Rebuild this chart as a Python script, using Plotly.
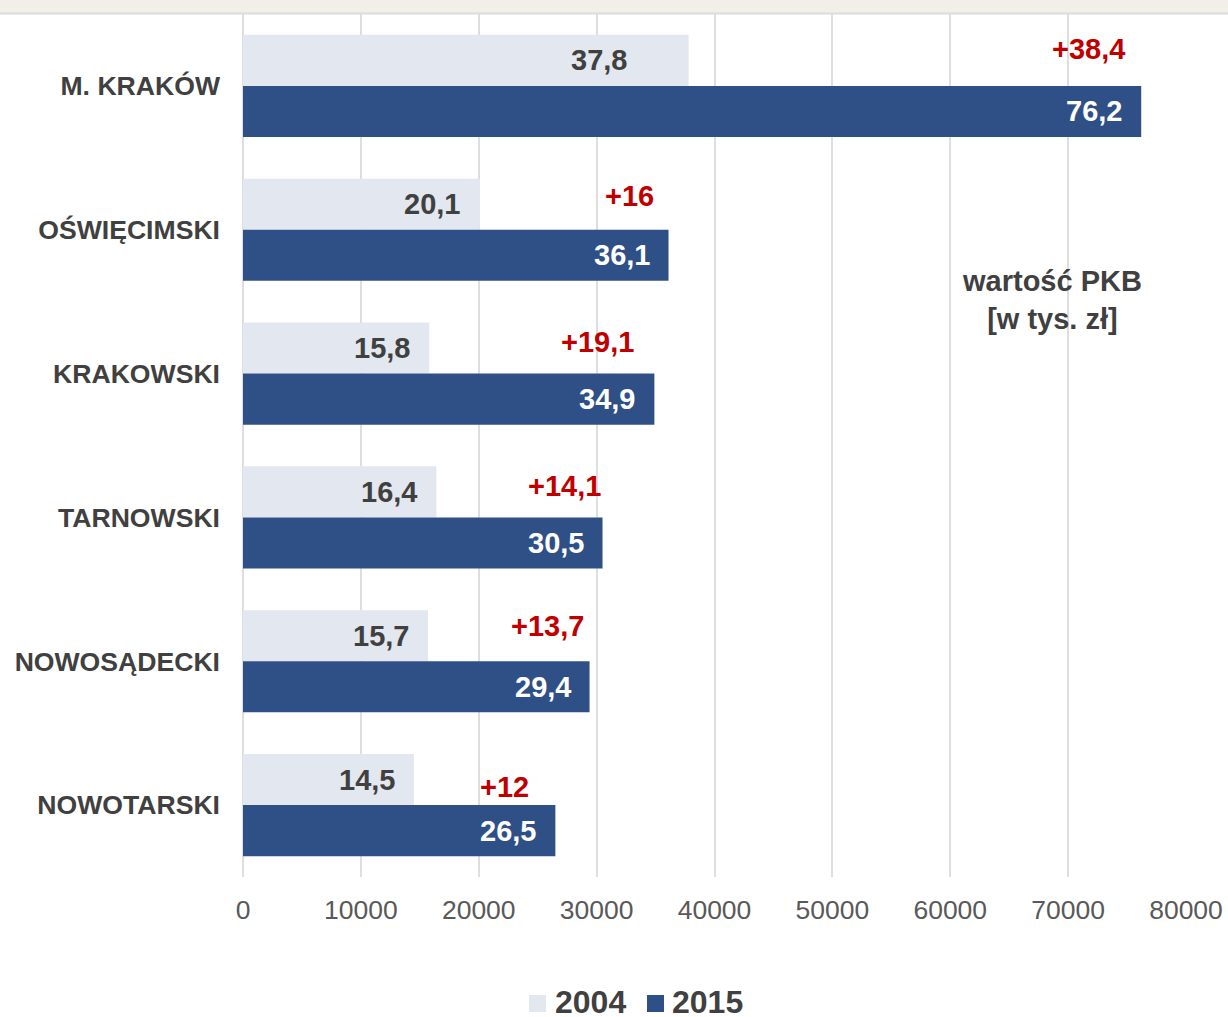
import plotly.graph_objects as go

# GDP per capita by subregion (PLN), 2004 vs 2015
regions = ["M. KRAKÓW", "OŚWIĘCIMSKI", "KRAKOWSKI", "TARNOWSKI", "NOWOSĄDECKI", "NOWOTARSKI"]
gdp_2004 = [37800, 20100, 15800, 16400, 15700, 14500]
gdp_2015 = [76200, 36100, 34900, 30500, 29400, 26500]
growth_labels = ["+38,4", "+16", "+19,1", "+14,1", "+13,7", "+12"]
years = ["2004", "2015"]
tick_values = [0, 10000, 20000, 30000, 40000, 50000, 60000, 70000, 80000]

# layout geometry (px)
W, H = 1228, 1017
ML, MR, MT, MB = 243, 42, 14, 140
PLOT_W = W - ML - MR
PLOT_H = H - MT - MB
HALF_BAR = 25.5

C_LIGHT = "#e3e7ef"
C_DARK = "#2f5086"
C_TEXT = "#404040"
C_RED = "#c00000"
FONT = "Liberation Sans, Arial, sans-serif"

# per-label placement of the growth annotations (pixel nudges)
growth_dx = [-14, -13, -18, 0, -4, -24]
growth_dy = [37, 34, 32, 31, 35, 18]
# placement of the 2004 value labels inside the bar end
v2004_dx = [-60, -18, -17, -17, -17, -17]


def fmt(v):
    return f"{v / 1000:.1f}".replace(".", ",")


def px_x(p):
    return (p - ML) / PLOT_W


def px_y(p):
    return (H - MB - p) / PLOT_H


fig = go.Figure()
fig.add_trace(go.Bar(
    y=regions, x=gdp_2004, name=years[0], orientation="h",
    marker=dict(color=C_LIGHT, line=dict(width=0)), hoverinfo="skip",
))
fig.add_trace(go.Bar(
    y=regions, x=gdp_2015, name=years[1], orientation="h",
    marker=dict(color=C_DARK, line=dict(width=0)), hoverinfo="skip",
))

annotations = []
for i, r in enumerate(regions):
    annotations.append(dict(
        x=gdp_2004[i], y=r, xref="x", yref="y", text=fmt(gdp_2004[i]),
        showarrow=False, xanchor="right", yanchor="middle",
        xshift=v2004_dx[i], yshift=HALF_BAR,
        font=dict(family=FONT, size=29, color=C_TEXT, weight="bold"),
    ))
    annotations.append(dict(
        x=gdp_2015[i], y=r, xref="x", yref="y", text=fmt(gdp_2015[i]),
        showarrow=False, xanchor="right", yanchor="middle",
        xshift=-17, yshift=-HALF_BAR,
        font=dict(family=FONT, size=29, color="white", weight="bold"),
    ))
    annotations.append(dict(
        x=gdp_2015[i], y=r, xref="x", yref="y", text=growth_labels[i],
        showarrow=False, xanchor="right", yanchor="middle",
        xshift=growth_dx[i], yshift=growth_dy[i],
        font=dict(family=FONT, size=29, color=C_RED, weight="bold"),
    ))

annotations.append(dict(
    x=px_x(1052), y=px_y(300), xref="paper", yref="paper",
    text="wartość PKB<br>[w tys. zł]", showarrow=False, align="center",
    xanchor="center", yanchor="middle",
    font=dict(family=FONT, size=29, color=C_TEXT, weight="bold"),
))

# beige header strip along the top edge
shapes = [
    dict(type="rect", xref="paper", yref="paper",
         x0=px_x(0), x1=px_x(W), y0=px_y(13), y1=px_y(0),
         fillcolor="#f2efe8", line=dict(width=0), layer="below"),
    dict(type="line", xref="paper", yref="paper",
         x0=px_x(0), x1=px_x(W), y0=px_y(13.5), y1=px_y(13.5),
         line=dict(color="#dcdcdc", width=2), layer="below"),
]

# legend: colour swatch + bold year label, centred under the chart
legend_items = [(years[0], C_LIGHT, 529, 553), (years[1], C_DARK, 647, 670)]
for label, color, sx, tx in legend_items:
    shapes.append(dict(
        type="rect", xref="paper", yref="paper",
        x0=px_x(sx), x1=px_x(sx + 17), y0=px_y(1012), y1=px_y(995),
        fillcolor=color, line=dict(width=0),
    ))
    annotations.append(dict(
        x=px_x(tx), y=px_y(1002), xref="paper", yref="paper", text=label,
        showarrow=False, xanchor="left", yanchor="middle",
        font=dict(family=FONT, size=32, color=C_TEXT, weight="bold"),
    ))

fig.update_layout(
    width=W, height=H,
    margin=dict(l=ML, r=MR, t=MT, b=MB, pad=0, autoexpand=False),
    paper_bgcolor="white", plot_bgcolor="white",
    barmode="group", bargap=0.29, bargroupgap=0,
    font=dict(family=FONT, color=C_TEXT),
    annotations=annotations, shapes=shapes,
    showlegend=False,
    xaxis=dict(
        range=[0, 80000], tickvals=tick_values, ticktext=[str(t) for t in tick_values],
        showgrid=True, gridcolor="#dedede", gridwidth=2,
        zeroline=True, zerolinecolor="#dedede", zerolinewidth=2,
        showline=False, ticks="", ticklabelstandoff=14, automargin=False,
        tickfont=dict(family=FONT, size=26.5, color="#595959"),
        fixedrange=True,
    ),
    yaxis=dict(
        categoryorder="array", categoryarray=regions, autorange="reversed",
        showgrid=False, zeroline=False, showline=False, ticks="",
        ticklabelstandoff=22, automargin=False,
        tickfont=dict(family=FONT, size=26.6, color=C_TEXT, weight="bold"),
        fixedrange=True,
    ),
)

fig.write_html("out.html", config={"displayModeBar": False})
